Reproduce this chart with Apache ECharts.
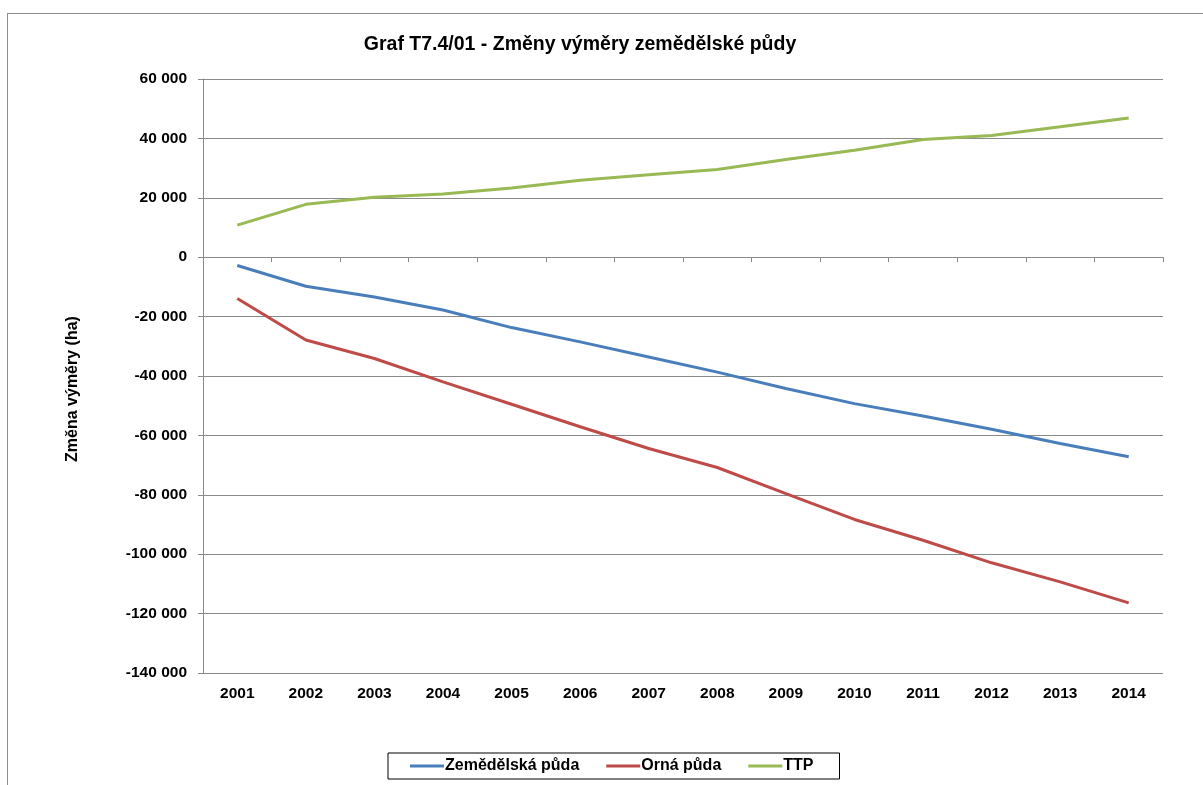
<!DOCTYPE html>
<html>
<head>
<meta charset="utf-8">
<script src="https://cdn.jsdelivr.net/npm/echarts@6/dist/echarts.min.js"></script>
<style>
  html, body { margin: 0; padding: 0; background: #fff; overflow: hidden; }
  #frame { position: absolute; left: 7px; top: 13px; width: 1300px; height: 900px; border: 1px solid #8c8c8c; }
  #chart { position: absolute; left: 0; top: 0; width: 1203px; height: 785px; }
</style>
</head>
<body>
<div id="frame"></div>
<div id="chart"></div>
<script>
// roky
const years = ['2001', '2002', '2003', '2004', '2005', '2006', '2007', '2008', '2009', '2010', '2011', '2012', '2013', '2014']
// změny výměry (ha)
const zemedelska = [-2800, -9800, -13400, -17800, -23700, -28500, -33600, -38700, -44200, -49300, -53500, -57900, -62700, -67200]
const orna = [-13900, -27900, -34100, -42000, -49500, -57100, -64400, -70800, -79600, -88300, -95300, -102900, -109300, -116400]
const ttp = [10800, 17800, 20200, 21300, 23300, 25900, 27800, 29500, 32900, 36000, 39600, 41000, 43900, 46900]

const font = 'Arial, "Liberation Sans", sans-serif'
const gray = '#8a8a8a'

const chart = echarts.init(document.getElementById('chart'))

function fmt(v) {
  const s = String(Math.abs(v)).replace(/\B(?=(\d{3})+(?!\d))/g, ' ')
  return (v < 0 ? '-' : '') + s
}

function lineSeries(name, data, color) {
  return {
    name: name,
    type: 'line',
    data: data,
    showSymbol: false,
    symbol: 'none',
    lineStyle: { color: color, width: 3 },
    itemStyle: { color: color },
    emphasis: { disabled: true }
  }
}

chart.setOption({
  animation: false,
  title: {
    text: 'Graf T7.4/01 - Změny výměry zemědělské půdy',
    left: 575,
    textAlign: 'center',
    top: 30,
    textStyle: { fontFamily: font, fontSize: 19.5, fontWeight: 'bold', color: '#000' }
  },
  legend: {
    left: 388,
    top: 753,
    padding: [5, 26, 5, 22],
    borderColor: '#000',
    borderWidth: 1,
    itemGap: 27,
    itemWidth: 34,
    itemHeight: 3,
    icon: 'rect',
    textStyle: { fontFamily: font, fontSize: 16, fontWeight: 'bold', color: '#000', padding: [0, 0, 0, -4] },
    data: ['Zemědělská půda', 'Orná půda', 'TTP']
  },
  graphic: [{
    type: 'text',
    x: 73,
    y: 389,
    rotation: Math.PI / 2,
    style: {
      text: 'Změna výměry (ha)',
      font: 'bold 16px ' + font,
      fill: '#000',
      align: 'center',
      verticalAlign: 'middle'
    }
  }],
  grid: { left: 203, right: 40, top: 79, bottom: 112 },
  xAxis: [
    {
      type: 'category',
      data: years,
      position: 'bottom',
      axisLine: { show: false, onZero: false },
      axisTick: { show: false },
      axisLabel: { fontFamily: font, fontSize: 15.5, fontWeight: 'bold', color: '#000', margin: 13 }
    },
    {
      type: 'category',
      data: years,
      position: 'bottom',
      axisLine: { show: true, onZero: true, lineStyle: { color: gray, width: 1 } },
      axisTick: { show: true, length: 5, alignWithLabel: false, lineStyle: { color: gray } },
      axisLabel: { show: false }
    }
  ],
  yAxis: {
    type: 'value',
    min: -140000,
    max: 60000,
    interval: 20000,
    axisLine: { show: true, lineStyle: { color: gray } },
    axisTick: { show: true, length: 5, lineStyle: { color: gray } },
    axisLabel: { fontFamily: font, fontSize: 15.5, fontWeight: 'bold', color: '#000', margin: 16, formatter: fmt },
    splitLine: { show: true, lineStyle: { color: gray, width: 1 } }
  },
  series: [
    lineSeries('Zemědělská půda', zemedelska, '#4a7ebb'),
    lineSeries('Orná půda', orna, '#be4b48'),
    lineSeries('TTP', ttp, '#98b954')
  ]
})
</script>
</body>
</html>
